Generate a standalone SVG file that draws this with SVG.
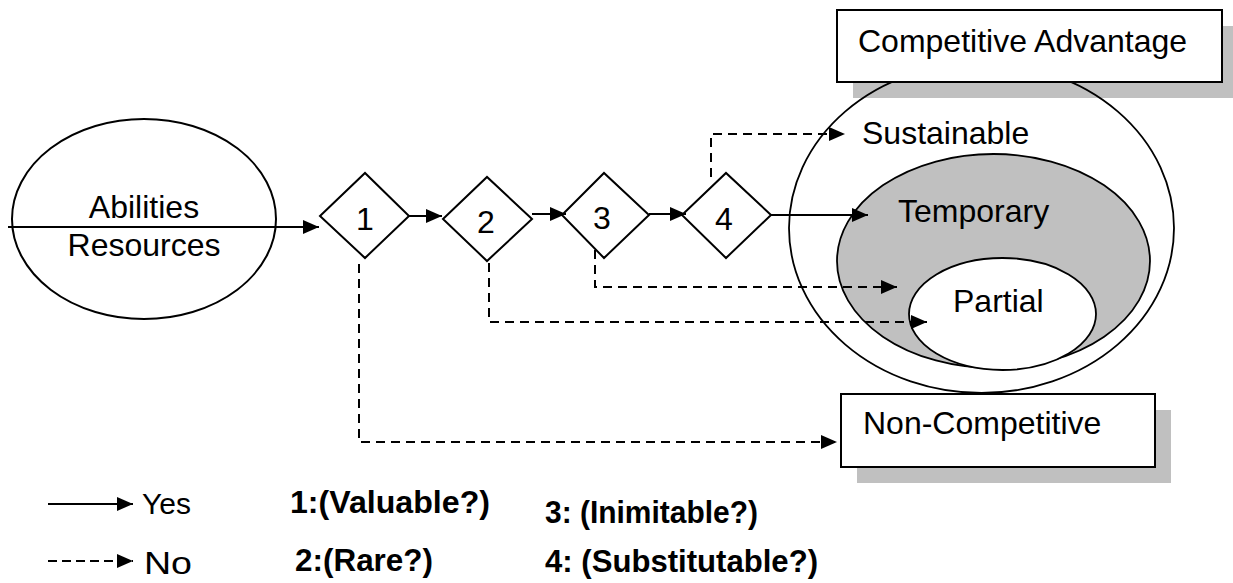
<svg xmlns="http://www.w3.org/2000/svg" width="1233" height="583" viewBox="0 0 1233 583">
<style>
  .t { font-family: "Liberation Sans", Arial, sans-serif; font-size: 32px; fill: #000; }
  .b { font-family: "Liberation Sans", Arial, sans-serif; font-size: 32px; font-weight: bold; fill: #000; }
  .shape { fill: #fff; stroke: #000; stroke-width: 2; }
  .shadow { fill: #c0c0c0; stroke: none; }
  .solid { fill: none; stroke: #000; stroke-width: 2; }
  .dash { fill: none; stroke: #000; stroke-width: 2; stroke-dasharray: 9 6; }
</style>
<defs>
  <marker id="ah" viewBox="0 0 16 14" refX="16" refY="7" markerWidth="16" markerHeight="14" markerUnits="userSpaceOnUse" orient="auto">
    <path d="M0,0 L16,7 L0,14 z" fill="#000"/>
  </marker>
</defs>
<rect width="1233" height="583" fill="#fff"/>

<g id="competitive-advantage-area">
  <rect class="shadow" x="853" y="26" width="385" height="72"/>
  <ellipse cx="981.5" cy="228" rx="192.5" ry="165" fill="none" stroke="#000" stroke-width="1.8"/>
  <rect class="shape" x="837" y="10" width="385" height="72"/>
  <text class="t" x="858" y="52">Competitive Advantage</text>
</g>

<g id="sustainable">
  <text class="t" x="862" y="144">Sustainable</text>
</g>

<g id="temporary">
  <ellipse cx="993.5" cy="261" rx="156.5" ry="107" fill="#c0c0c0" stroke="#000" stroke-width="1.8"/>
  <text class="t" x="898" y="222">Temporary</text>
</g>

<g id="partial">
  <ellipse cx="1002.5" cy="314" rx="93.5" ry="56" fill="#fff" stroke="#000" stroke-width="1.8"/>
  <text class="t" x="953" y="312">Partial</text>
</g>

<g id="non-competitive">
  <rect class="shadow" x="857" y="410" width="314" height="73"/>
  <rect class="shape" x="841" y="394" width="314" height="73"/>
  <text class="t" x="863" y="434">Non-Competitive</text>
</g>

<g id="abilities-resources">
  <ellipse class="shape" cx="144" cy="219" rx="132" ry="100"/>
  <text class="t" x="144" y="218" text-anchor="middle">Abilities</text>
  <text class="t" x="144" y="256" text-anchor="middle">Resources</text>
</g>

<g id="q1">
  <polygon class="shape" points="320,216 365,173 409,216 365,258"/>
  <text class="t" x="365" y="230" text-anchor="middle">1</text>
</g>
<g id="q2">
  <polygon class="shape" points="443,219 487,177 532,219 487,261"/>
  <text class="t" x="486" y="233" text-anchor="middle">2</text>
</g>
<g id="q3">
  <polygon class="shape" points="562,215 604,173 649,215 604,258"/>
  <text class="t" x="602" y="229" text-anchor="middle">3</text>
</g>
<g id="q4">
  <polygon class="shape" points="682,215 726,173 771,215 726,258"/>
  <text class="t" x="724" y="230" text-anchor="middle">4</text>
</g>

<g id="connectors">
  <line class="solid" x1="8" y1="227" x2="319" y2="227" marker-end="url(#ah)"/>
  <line class="solid" x1="409" y1="216" x2="442" y2="216" marker-end="url(#ah)"/>
  <line class="solid" x1="532" y1="214" x2="566" y2="214" marker-end="url(#ah)"/>
  <line class="solid" x1="649" y1="214" x2="686" y2="214" marker-end="url(#ah)"/>
  <line class="solid" x1="771" y1="215" x2="868" y2="215" marker-end="url(#ah)"/>
  <polyline class="dash" points="711,177 711,134 845,134" marker-end="url(#ah)"/>
  <polyline class="dash" points="595,250 595,287 897,287" marker-end="url(#ah)"/>
  <polyline class="dash" points="489,263 489,322 927,322" marker-end="url(#ah)"/>
  <polyline class="dash" points="359,264 359,442 837,442" marker-end="url(#ah)"/>
</g>

<g id="legend">
  <line class="solid" x1="48" y1="504" x2="133" y2="504" marker-end="url(#ah)"/>
  <text class="t" x="142" y="514" style="font-size:30px">Yes</text>
  <line x1="48" y1="561" x2="133" y2="561" stroke="#000" stroke-width="2" stroke-dasharray="9 5" marker-end="url(#ah)"/>
  <text class="t" x="144" y="574" style="font-size:32px" textLength="48" lengthAdjust="spacingAndGlyphs">No</text>
  <text class="b" x="290" y="513" textLength="200" lengthAdjust="spacingAndGlyphs">1:(Valuable?)</text>
  <text class="b" x="295" y="571" textLength="138" lengthAdjust="spacingAndGlyphs">2:(Rare?)</text>
  <text class="b" x="545" y="523" textLength="213" lengthAdjust="spacingAndGlyphs">3: (Inimitable?)</text>
  <text class="b" x="545" y="572" textLength="273" lengthAdjust="spacingAndGlyphs">4: (Substitutable?)</text>
</g>
</svg>
